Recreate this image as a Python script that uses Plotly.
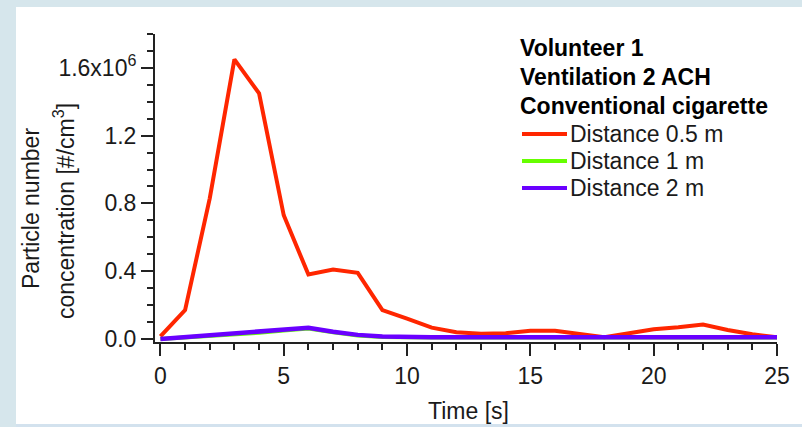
import plotly.graph_objects as go

# ---- data ----
time_s = list(range(0, 26))
dist_05 = [0.015, 0.17, 0.83, 1.65, 1.45, 0.73, 0.38, 0.41, 0.39, 0.17,
           0.12, 0.067, 0.04, 0.03, 0.034, 0.049, 0.049, 0.028, 0.01, 0.034,
           0.057, 0.069, 0.085, 0.053, 0.028, 0.01]
dist_1 = [0.0, 0.008, 0.017, 0.027, 0.037, 0.05, 0.062, 0.04, 0.021, 0.012,
          0.008, 0.008, 0.008, 0.008, 0.008, 0.008, 0.008, 0.008, 0.008, 0.008,
          0.008, 0.008, 0.008, 0.008, 0.008, 0.008]
dist_2 = [0.0, 0.01, 0.02, 0.03, 0.04, 0.053, 0.066, 0.043, 0.024, 0.014,
          0.01, 0.01, 0.01, 0.01, 0.01, 0.01, 0.01, 0.01, 0.01, 0.01,
          0.01, 0.01, 0.01, 0.01, 0.01, 0.01]
scale = 1e6
series_names = ["Distance 0.5 m", "Distance 1 m", "Distance 2 m"]
series_colors = ["#ff2600", "#66ff00", "#6a00ff"]
legend_title = ["Volunteer 1", "Ventilation 2 ACH", "Conventional cigarette"]
y_tickvals = [0.0, 0.4, 0.8, 1.2, 1.6]
y_ticktext = ["0.0", "0.4", "0.8", "1.2", "1.6x10<sup>6</sup>"]
x_tickvals = [0, 5, 10, 15, 20, 25]

W, H = 802, 427
L, R, T, B = 155, 25, 34, 85
pw, ph = W - L - R, H - T - B

def px(xp):
    return (xp - L) / pw

def py(yp):
    return (H - B - yp) / ph

FONT = "Liberation Sans, Arial, sans-serif"
FS = 23
TXT = "#1a1a1a"

fig = go.Figure()
for vals, name, col, wd in zip([dist_05, dist_1, dist_2], series_names, series_colors, [4, 4, 4.5]):
    fig.add_trace(go.Scatter(x=time_s, y=[v * scale for v in vals], mode="lines",
                             name=name, line=dict(color=col, width=wd), showlegend=False))

shapes = [
    dict(type="rect", xref="paper", yref="paper", x0=px(16), x1=px(810), y0=py(424), y1=py(7),
         fillcolor="white", line=dict(width=0), layer="below"),
    dict(type="rect", xref="paper", yref="paper", x0=px(16), x1=px(810), y0=py(430), y1=py(424),
         fillcolor="#d3e2ee", line=dict(width=0), layer="below"),
]
annotations = []
for i, t in enumerate(legend_title):
    annotations.append(dict(xref="paper", yref="paper", x=px(518), y=py(48 + 29 * i),
                            xanchor="left", yanchor="middle", showarrow=False,
                            text="<b>%s</b>" % t, font=dict(family=FONT, size=FS, color="black")))
for i, (name, col) in enumerate(zip(series_names, series_colors)):
    yc = 134 + 27 * i
    shapes.append(dict(type="line", xref="paper", yref="paper", x0=px(522), x1=px(567),
                       y0=py(yc), y1=py(yc), line=dict(color=col, width=4)))
    annotations.append(dict(xref="paper", yref="paper", x=px(568), y=py(yc),
                            xanchor="left", yanchor="middle", showarrow=False,
                            text=name, font=dict(family=FONT, size=FS, color=TXT)))
annotations.append(dict(xref="paper", yref="paper", x=px(31), y=py(209), xanchor="center",
                        yanchor="middle", textangle=-90, showarrow=False, text="Particle number",
                        font=dict(family=FONT, size=FS, color=TXT)))
annotations.append(dict(xref="paper", yref="paper", x=px(64), y=py(211), xanchor="center",
                        yanchor="middle", textangle=-90, showarrow=False,
                        text="concentration [#/cm<sup>3</sup>]",
                        font=dict(family=FONT, size=FS, color=TXT)))
annotations.append(dict(xref="paper", yref="paper", x=px(469), y=py(411), xanchor="center",
                        yanchor="middle", showarrow=False, text="Time [s]",
                        font=dict(family=FONT, size=FS, color=TXT)))

fig.update_layout(
    width=W, height=H, margin=dict(l=L, r=R, t=T, b=B),
    paper_bgcolor="#d6e6ec", plot_bgcolor="white",
    font=dict(family=FONT, size=FS, color=TXT),
    shapes=shapes, annotations=annotations,
    xaxis=dict(range=[-0.22, 25], tickvals=x_tickvals, ticks="outside", ticklen=12, tickwidth=2,
               tickcolor="#222", showline=True, linecolor="#222", linewidth=2, showgrid=False,
               zeroline=False, minor=dict(dtick=1, ticks="outside", ticklen=6, tickwidth=2, tickcolor="#222"),
               tickfont=dict(family=FONT, size=FS, color=TXT)),
    yaxis=dict(range=[-0.018e6, 1.8e6], tickvals=[v * scale for v in y_tickvals], ticktext=y_ticktext,
               ticks="outside", ticklen=12, tickwidth=2, tickcolor="#222", showline=True,
               linecolor="#222", linewidth=2, showgrid=False, zeroline=False,
               minor=dict(tick0=0, dtick=0.1e6, ticks="outside", ticklen=6, tickwidth=2, tickcolor="#222"),
               tickfont=dict(family=FONT, size=FS, color=TXT)),
)
fig.write_html("out.html", config={"displayModeBar": False},
               post_script="document.body.style.margin='0';document.body.style.overflow='hidden';")
